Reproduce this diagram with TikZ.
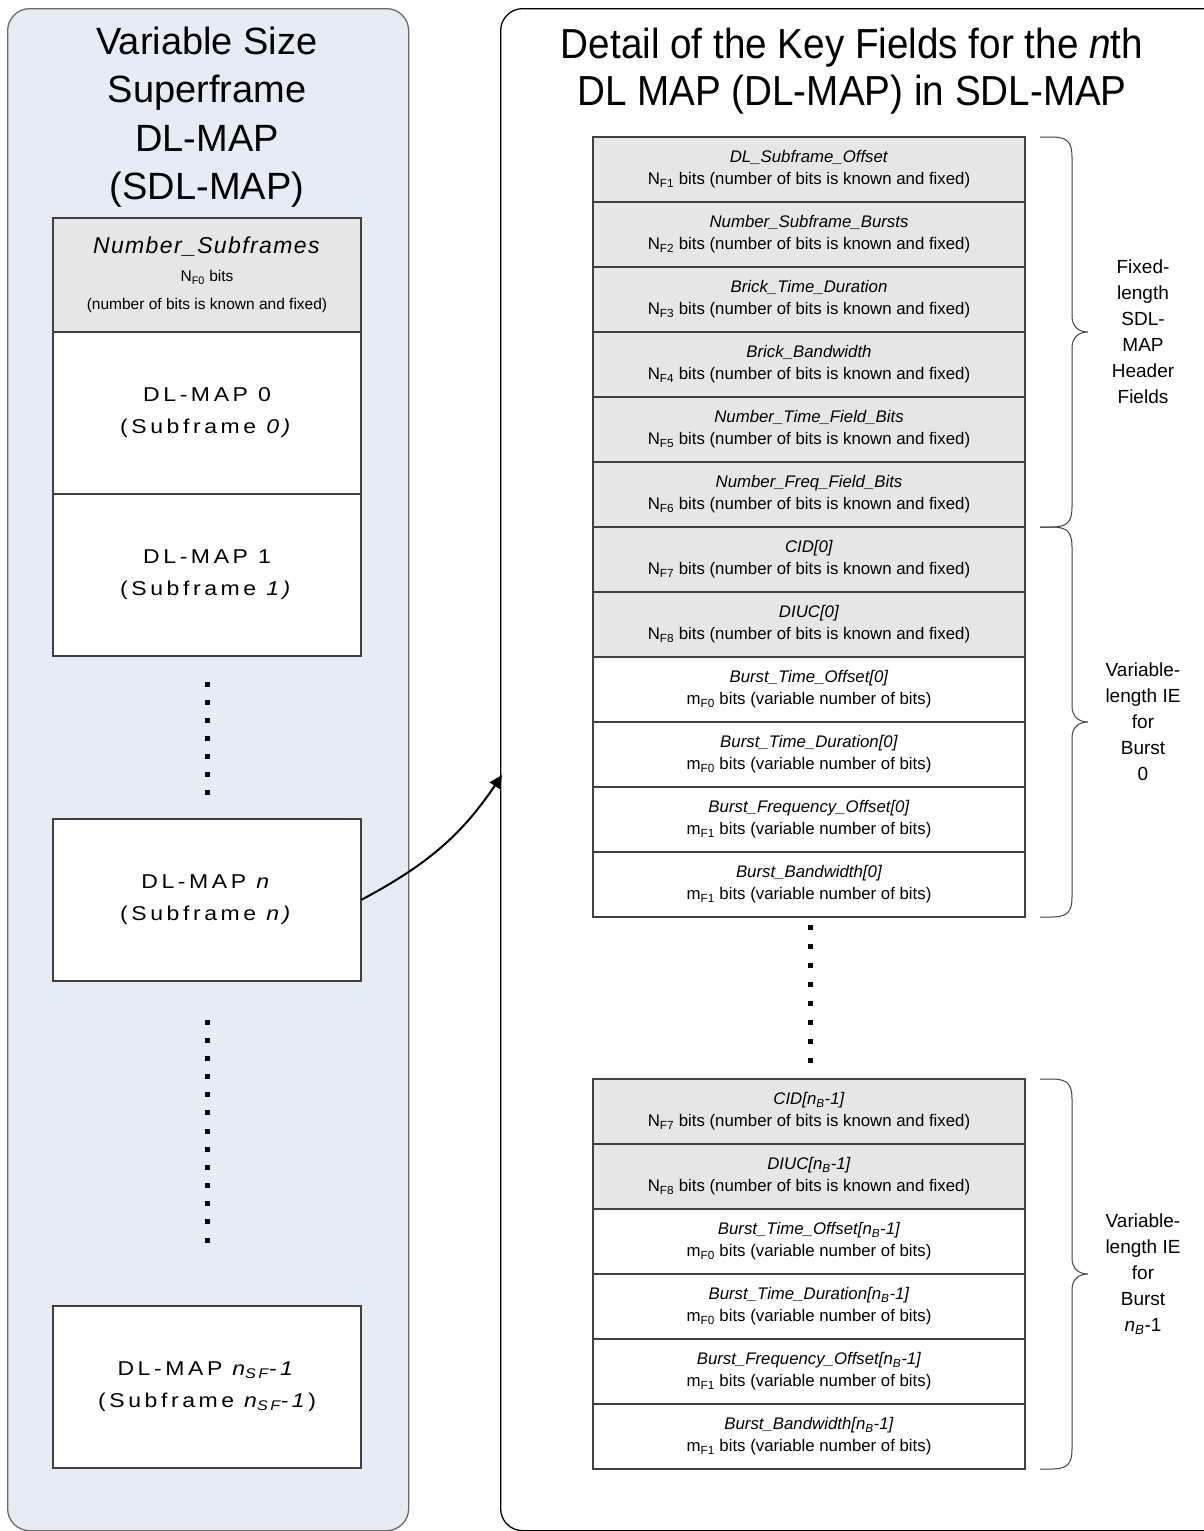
\documentclass[tikz,border=0pt]{standalone}
\usepackage{fontspec}
\setmainfont{Liberation Sans}
\newfontfamily\spacedfont[LetterSpace=18,FakeStretch=1.15]{Liberation Sans}
\newfontfamily\narrowfont[FakeStretch=0.92]{Liberation Sans}
\usetikzlibrary{arrows.meta}
\definecolor{panelblue}{HTML}{E6ECF6}
\definecolor{panelline}{HTML}{6B6B6B}
\definecolor{fieldgray}{HTML}{E6E6E6}
\definecolor{boxline}{HTML}{404040}
\newcommand\myfixed[1]{N\textsubscript{F#1} bits (number of bits is known and fixed)}
\newcommand\myvar[1]{m\textsubscript{F#1} bits (variable number of bits)}
\newcommand\mynb{n\textsubscript{B}}
\newcommand\mybrace[2]{%
  \pgfmathsetmacro\bmid{(#1+#2)/2}%
  \draw[bracestyle] (1040,#1) -- (1052,#1) .. controls (1068,#1) and (1072,#1+6) .. (1072,#1+20)
    -- (1072,\bmid-16) .. controls (1072,\bmid-6) and (1078,\bmid) .. (1088,\bmid)
    .. controls (1078,\bmid) and (1072,\bmid+6) .. (1072,\bmid+16)
    -- (1072,#2-20) .. controls (1072,#2-6) and (1068,#2) .. (1052,#2) -- (1040,#2);}
\tikzset{
  lbox/.style={draw=boxline, line width=1.2pt, fill=white, minimum width=308pt, minimum height=162pt,
    inner sep=0pt, outer sep=0pt, anchor=north west, align=center,
    font=\fontsize{20}{32}\selectfont\spacedfont},
  rbox/.style={draw=boxline, line width=1.2pt, fill=white, minimum width=432pt, minimum height=65pt,
    inner sep=0pt, outer sep=0pt, anchor=north west, align=center,
    font=\fontsize{16.8}{22}\selectfont},
  gbox/.style={rbox, fill=fieldgray},
  bracestyle/.style={draw=boxline, line width=1pt},
  bracelabel/.style={align=center, font=\fontsize{19}{26}\selectfont, inner sep=0pt},
  dotmark/.style={fill=black},
  arrowstyle/.style={line width=2pt, -{Triangle[length=13pt,width=12pt]}},
}
\begin{document}
\begin{tikzpicture}[x=1pt,y=-1pt]
\useasboundingbox (0,0) rectangle (1204,1531);
% panels
\node[draw=panelline, line width=1.3pt, fill=panelblue, rounded corners=22pt, minimum width=401pt,
  minimum height=1522pt, anchor=north west, inner sep=0pt] (lp) at (7,8) {};
\node[draw=black, line width=1.3pt, fill=white, rounded corners=22pt, minimum width=760pt,
  minimum height=1522pt, anchor=north west, inner sep=0pt] (rp) at (500,8) {};
% titles
\node[align=center, font=\fontsize{38}{48.5}\selectfont, inner sep=0pt] (lt) at (207,117)
  {Variable Size\\Superframe\\DL-MAP\\(SDL-MAP)};
\node[align=center, font=\fontsize{42}{47}\selectfont\narrowfont, inner sep=0pt] (rt) at (852,71)
  {Detail of the Key Fields for the \textit{n}th\\DL MAP (DL-MAP) in SDL-MAP};
% left column
\node[lbox, fill=fieldgray, minimum height=114pt, font=\fontsize{15.5}{28}\selectfont] (nsf) at (53,218)
  {{\fontsize{23}{28}\selectfont\addfontfeatures{LetterSpace=6}\textit{Number\_Subframes}}\\
   N\textsubscript{F0} bits\\(number of bits is known and fixed)};
\node[lbox] (m0) at (53,332) {DL-MAP 0\\(Subframe \textit{0)}};
\node[lbox] (m1) at (53,494) {DL-MAP 1\\(Subframe \textit{1)}};
\node[lbox] (mn) at (53,819) {DL-MAP \textit{n}\\(Subframe \textit{n)}};
\node[lbox] (mlast) at (53,1306) {DL-MAP \textit{n\textsubscript{SF}-1}\\(Subframe \textit{n\textsubscript{SF}-1})};
\foreach \i in {0,...,6} \fill[dotmark] (204.5,{684+18*\i-2.5}) rectangle ++(5,5);
\foreach \i in {0,...,12} \fill[dotmark] (204.5,{1022+18.17*\i-2.5}) rectangle ++(5,5);
% right column, group 1
\node[gbox] (r1) at (593,137) {\textit{DL\_Subframe\_Offset}\\\myfixed{1}};
\node[gbox] (r2) at (593,202) {\textit{Number\_Subframe\_Bursts}\\\myfixed{2}};
\node[gbox] (r3) at (593,267) {\textit{Brick\_Time\_Duration}\\\myfixed{3}};
\node[gbox] (r4) at (593,332) {\textit{Brick\_Bandwidth}\\\myfixed{4}};
\node[gbox] (r5) at (593,397) {\textit{Number\_Time\_Field\_Bits}\\\myfixed{5}};
\node[gbox] (r6) at (593,462) {\textit{Number\_Freq\_Field\_Bits}\\\myfixed{6}};
\node[gbox] (r7) at (593,527) {\textit{CID[0]}\\\myfixed{7}};
\node[gbox] (r8) at (593,592) {\textit{DIUC[0]}\\\myfixed{8}};
\node[rbox] (r9) at (593,657) {\textit{Burst\_Time\_Offset[0]}\\\myvar{0}};
\node[rbox] (r10) at (593,722) {\textit{Burst\_Time\_Duration[0]}\\\myvar{0}};
\node[rbox] (r11) at (593,787) {\textit{Burst\_Frequency\_Offset[0]}\\\myvar{1}};
\node[rbox] (r12) at (593,852) {\textit{Burst\_Bandwidth[0]}\\\myvar{1}};
\foreach \i in {0,...,7} \fill[dotmark] (807.5,{927+19*\i-2.5}) rectangle ++(5,5);
% right column, group 2
\node[gbox] (s1) at (593,1079) {\textit{CID[\mynb-1]}\\\myfixed{7}};
\node[gbox] (s2) at (593,1144) {\textit{DIUC[\mynb-1]}\\\myfixed{8}};
\node[rbox] (s3) at (593,1209) {\textit{Burst\_Time\_Offset[\mynb-1]}\\\myvar{0}};
\node[rbox] (s4) at (593,1274) {\textit{Burst\_Time\_Duration[\mynb-1]}\\\myvar{0}};
\node[rbox] (s5) at (593,1339) {\textit{Burst\_Frequency\_Offset[\mynb-1]}\\\myvar{1}};
\node[rbox] (s6) at (593,1404) {\textit{Burst\_Bandwidth[\mynb-1]}\\\myvar{1}};
% braces
\mybrace{137}{527}
\mybrace{527}{917}
\mybrace{1079}{1469}
\node[bracelabel] (b1) at (1143,332) {Fixed-\\length\\SDL-\\MAP\\Header\\Fields};
\node[bracelabel] (b2) at (1143,722) {Variable-\\length IE\\for\\Burst\\0};
\node[bracelabel] (b3) at (1143,1274) {Variable-\\length IE\\for\\Burst\\\textit{\mynb}-1};
% arrow
\coordinate (tip) at (502,775);
\draw[arrowstyle] (mn.east) to[out=28, in=236] (tip);
\end{tikzpicture}
\end{document}
